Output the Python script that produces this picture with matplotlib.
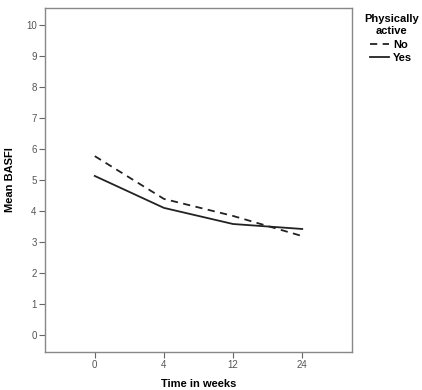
import matplotlib.pyplot as plt

# Données
weeks = ["0", "4", "12", "24"]
basfi_no = [5.77, 4.39, 3.84, 3.19]
basfi_yes = [5.13, 4.10, 3.58, 3.42]
y_ticks = list(range(0, 11))

plt.rcParams['font.family'] = ['Liberation Sans', 'DejaVu Sans']

fig = plt.figure(figsize=(4.22, 3.90), dpi=100)
ax = fig.add_axes([45 / 422, 38 / 390, 307 / 422, 344 / 390])

x = list(range(len(weeks)))
ax.plot(x, basfi_no, color="#222222", lw=1.3, ls=(0, (4, 3)), label="No")
ax.plot(x, basfi_yes, color="#222222", lw=1.3, label="Yes")

ax.set_xlim(-0.72, 3.72)
ax.set_ylim(-0.55, 10.55)
ax.set_xticks(x)
ax.set_xticklabels(weeks)
ax.set_yticks(y_ticks)

for s in ax.spines.values():
    s.set_color("#888888")
    s.set_linewidth(1.0)
ax.tick_params(direction="out", length=4, width=0.8, color="#666666",
               labelsize=7, labelcolor="#555555", pad=2)

ax.set_xlabel("Time in weeks", fontsize=8, fontweight="bold", labelpad=6)
ax.set_ylabel("Mean BASFI", fontsize=8, fontweight="bold", labelpad=8)

leg = fig.legend(title="Physically\nactive", loc="upper left",
                 bbox_to_anchor=(356 / 422, 1 - 6 / 390), frameon=False,
                 handlelength=1.7, handletextpad=0.4,
                 borderpad=0.2, labelspacing=0.3,
                 prop={'weight': 'bold', 'size': 8})
leg.get_title().set_fontweight("bold")
leg.get_title().set_fontsize(8)
leg.get_title().set_multialignment("center")
leg.get_title().set_linespacing(1.3)

fig.savefig("out.png", dpi=100)
